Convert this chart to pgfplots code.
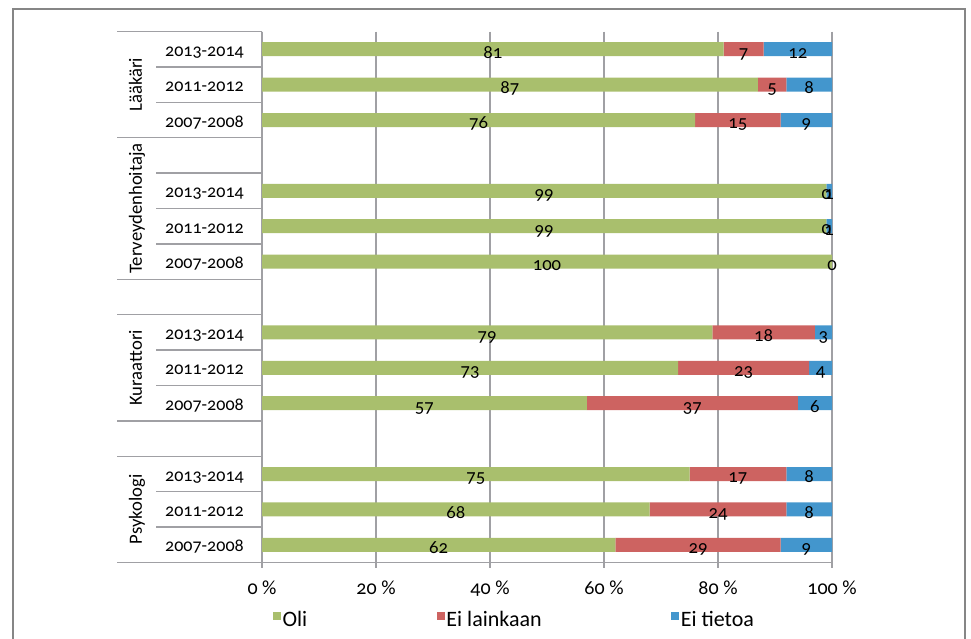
\documentclass[border=0pt]{standalone}
\usepackage{pgfplots}
\pgfplotsset{compat=1.18}
\usepackage{pgfplotstable}
\usepackage{fontspec}
\setmainfont{Carlito}[Numbers=OldStyle]
\definecolor{cgreen}{RGB}{169,191,109}
\definecolor{cred}{RGB}{205,99,97}
\definecolor{cblue}{RGB}{67,150,205}
\definecolor{cgrid}{RGB}{160,160,164}
\definecolor{cframe}{RGB}{134,134,134}
\tikzset{zerolab/.style={font=\fontsize{14}{16}\selectfont, text=black, anchor=base, yshift=-6.6pt}}

\pgfplotstableread{
y oli ei tieto
0 81 7 12
1 87 5 8
2 76 15 9
4 99 0 1
5 99 0 1
6 100 0 0
8 79 18 3
9 73 23 4
10 57 37 6
12 75 17 8
13 68 24 8
14 62 29 9
}\data

\begin{document}
\begin{tikzpicture}
\useasboundingbox (0,0) rectangle (728.25pt,479.25pt);
\draw[cframe, line width=1.4pt] (9.75pt,-2pt) -- (9.75pt,472.5pt) -- (723.75pt,472.5pt) -- (723.75pt,-2pt);
\begin{axis}[
  at={(196.5pt,57.375pt)}, anchor=south west,
  scale only axis, width=427.5pt, height=398.25pt,
  xbar stacked, bar width=10.5pt,
  xmin=0, xmax=100, ymin=-0.5, ymax=14.5, y dir=reverse,
  axis x line*=bottom, axis y line*=left,
  axis line style={cgrid, line width=1pt},
  xtick={0,20,...,100},
  xticklabels={0 \%, 20 \%, 40 \%, 60 \%, 80 \%, 100 \%},
  ytick={0,1,2,4,5,6,8,9,10,12,13,14},
  yticklabels={2013-2014,2011-2012,2007-2008,2013-2014,2011-2012,2007-2008,2013-2014,2011-2012,2007-2008,2013-2014,2011-2012,2007-2008},
  xmajorgrids, grid style={cgrid, line width=1pt},
  tick align=outside, major tick length=3.75pt,
  xtick style={cgrid, line width=1pt},
  ytick style={draw=none},
  xticklabel style={font=\fontsize{15}{18}\selectfont, anchor=base, yshift=-20.6pt},
  yticklabel style={font=\fontsize{13.5}{16}\selectfont, anchor=base east, inner xsep=0pt, yshift=-5.25pt, xshift=-9.75pt},
  point meta=explicit,
  nodes near coords={\pgfmathprintnumber[assume math mode=true]{\pgfplotspointmeta}},
  every node near coord/.append style={font=\fontsize{14}{16}\selectfont, text=black, anchor=base, yshift=-6.6pt},
  clip=false,
  legend columns=3,
  legend cell align=left,
  legend style={at={(0.0193,-0.0913)}, anchor=north west, draw=none, fill=none, inner sep=0pt, outer sep=0pt,
    font=\fontsize{16.5}{19}\selectfont,
    /tikz/every even column/.append style={column sep=96pt},
    nodes={inner xsep=1.2pt, inner ysep=0pt}},
  myleg/.style={legend image code/.code={\fill[##1] (0pt,-0.3pt) rectangle (6pt,5.7pt);}},
]
\addplot[fill=cgreen, draw=none, myleg] table[x=oli, y=y, meta=oli] {\data};
\addlegendentry{Oli}
\addplot[fill=cred, draw=none, myleg] table[x=ei, y=y, meta=ei] {\data};
\addlegendentry{Ei lainkaan}
\addplot[fill=cblue, draw=none, myleg] table[x=tieto, y=y, meta=tieto] {\data};
\addlegendentry{Ei tietoa}

% positions of the labels of the zero-width segments
\coordinate (z1) at (axis cs:99,4);
\coordinate (z2) at (axis cs:99,5);
\coordinate (z3) at (axis cs:100,6);

\pgfplotsinvokeforeach{-0.5,2.5,6.5,7.5,10.5,11.5,14.5}{
  \draw[cgrid, line width=1pt] (axis cs:0,#1) -- ++(-108.75pt,0pt);
}
\pgfplotsinvokeforeach{0.5,1.5,3.5,4.5,5.5,8.5,9.5,12.5,13.5}{
  \draw[cgrid, line width=1pt] (axis cs:0,#1) -- ++(-79.5pt,0pt);
}
\node[rotate=90, anchor=base, font=\fontsize{14}{16}\selectfont] at ([xshift=-90pt]axis cs:0,1) {Lääkäri};
\node[rotate=90, anchor=base, font=\fontsize{14}{16}\selectfont] at ([xshift=-90pt]axis cs:0,4.5) {Terveydenhoitaja};
\node[rotate=90, anchor=base, font=\fontsize{14}{16}\selectfont] at ([xshift=-90pt]axis cs:0,9) {Kuraattori};
\node[rotate=90, anchor=base, font=\fontsize{14}{16}\selectfont] at ([xshift=-90pt]axis cs:0,13) {Psykologi};
\end{axis}
\node[zerolab] at (z1) {0};
\node[zerolab] at (z2) {0};
\node[zerolab] at (z3) {0};
\end{tikzpicture}
\end{document}
